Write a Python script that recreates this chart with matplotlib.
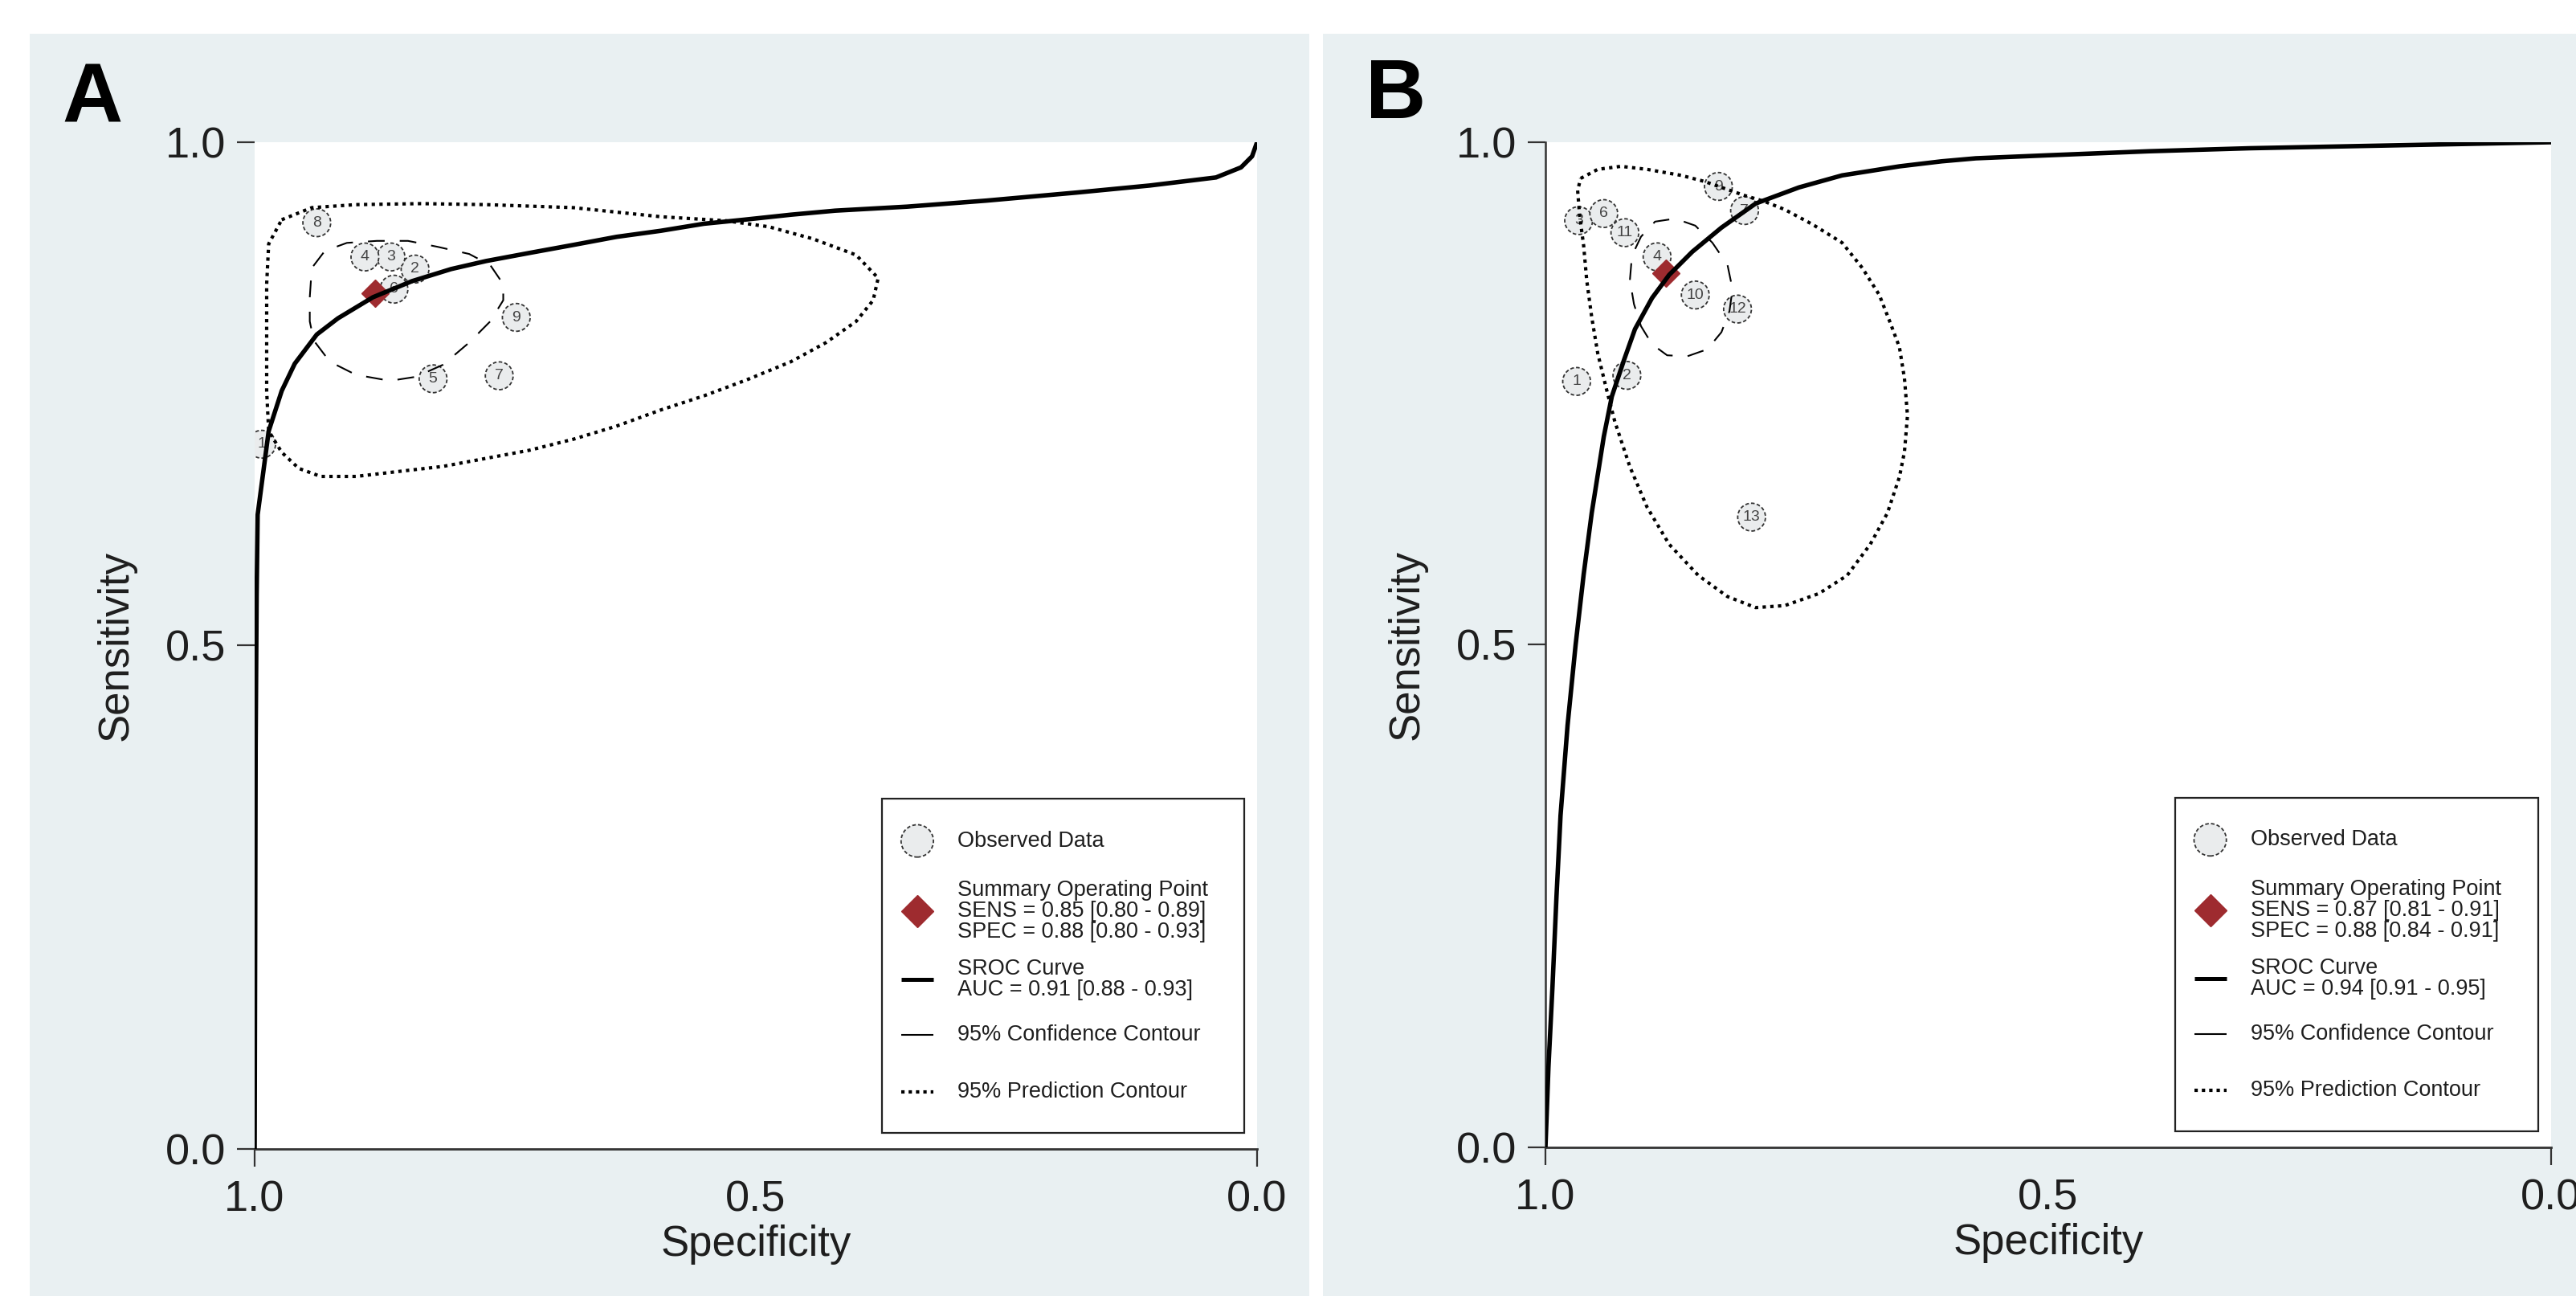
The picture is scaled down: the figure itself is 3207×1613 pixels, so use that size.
import matplotlib
matplotlib.use("Agg")
import matplotlib.pyplot as plt
from matplotlib.patches import Rectangle

plt.rcParams["font.family"] = ["Liberation Sans", "DejaVu Sans"]

BG = "#e9f0f2"
MAROON = "#9e2b2f"
INK = "#1e1e1e"

# ---------------- panel A ----------------
a_ids = ["1", "2", "3", "4", "5", "6", "7", "8", "9"]
a_spec = [0.993, 0.840, 0.864, 0.890, 0.822, 0.861, 0.756, 0.938, 0.739]
a_sens = [0.700, 0.874, 0.886, 0.886, 0.765, 0.854, 0.768, 0.920, 0.826]
a_summary = (0.88, 0.85)

a_sroc_spec = [1.000, 0.999, 0.998, 0.997, 0.986, 0.973, 0.960, 0.938, 0.917, 0.882,
               0.843, 0.804, 0.769, 0.726, 0.682, 0.639, 0.595, 0.552, 0.512, 0.465,
               0.421, 0.349, 0.270, 0.180, 0.107, 0.041, 0.016, 0.005, 0.000]
a_sroc_sens = [0.000, 0.400, 0.550, 0.630, 0.713, 0.753, 0.780, 0.809, 0.825, 0.846,
               0.862, 0.874, 0.882, 0.890, 0.898, 0.906, 0.912, 0.919, 0.923, 0.928,
               0.932, 0.936, 0.942, 0.950, 0.957, 0.965, 0.975, 0.986, 1.000]

a_conf_spec = [0.945, 0.943, 0.930, 0.908, 0.878, 0.847, 0.817, 0.786, 0.765, 0.752,
               0.752, 0.765, 0.786, 0.812, 0.839, 0.865, 0.899, 0.925, 0.941, 0.945, 0.945]
a_conf_sens = [0.846, 0.875, 0.892, 0.900, 0.902, 0.902, 0.896, 0.889, 0.878, 0.859,
               0.843, 0.822, 0.801, 0.779, 0.767, 0.763, 0.769, 0.782, 0.803, 0.822, 0.846]

a_pred_spec = [0.973, 0.943, 0.899, 0.834, 0.769, 0.682, 0.595, 0.530, 0.487, 0.443,
               0.400, 0.378, 0.383, 0.400, 0.430, 0.465, 0.509, 0.552, 0.595, 0.639,
               0.682, 0.726, 0.769, 0.812, 0.856, 0.899, 0.934, 0.956, 0.973, 0.986,
               0.988, 0.988, 0.988, 0.986, 0.973]
a_pred_sens = [0.923, 0.935, 0.938, 0.939, 0.938, 0.935, 0.926, 0.922, 0.916, 0.904,
               0.888, 0.865, 0.843, 0.822, 0.801, 0.782, 0.764, 0.748, 0.734, 0.718,
               0.705, 0.694, 0.686, 0.678, 0.673, 0.668, 0.668, 0.676, 0.692, 0.713,
               0.753, 0.806, 0.859, 0.899, 0.923]

a_legend = ["Observed Data",
            "Summary Operating Point\nSENS = 0.85 [0.80 - 0.89]\nSPEC = 0.88 [0.80 - 0.93]",
            "SROC Curve\nAUC = 0.91 [0.88 - 0.93]",
            "95% Confidence Contour",
            "95% Prediction Contour"]

# ---------------- panel B ----------------
b_ids = ["1", "2", "3", "4", "6", "7", "9", "10", "11", "12", "13"]
b_spec = [0.969, 0.919, 0.967, 0.889, 0.942, 0.802, 0.828, 0.851, 0.921, 0.809, 0.795]
b_sens = [0.762, 0.768, 0.922, 0.886, 0.929, 0.932, 0.956, 0.848, 0.910, 0.834, 0.627]
b_summary = (0.88, 0.87)

b_sroc_spec = [1.000, 0.997, 0.993, 0.989, 0.985, 0.978, 0.970, 0.962, 0.954, 0.942,
               0.934, 0.922, 0.911, 0.894, 0.877, 0.854, 0.825, 0.791, 0.748, 0.705,
               0.648, 0.606, 0.572, 0.500, 0.400, 0.300, 0.200, 0.100, 0.000]
b_sroc_sens = [0.000, 0.080, 0.160, 0.250, 0.330, 0.420, 0.500, 0.570, 0.631, 0.707,
               0.747, 0.783, 0.814, 0.845, 0.868, 0.891, 0.915, 0.939, 0.955, 0.967,
               0.976, 0.981, 0.984, 0.987, 0.991, 0.994, 0.996, 0.998, 1.000]

b_conf_spec = [0.916, 0.914, 0.905, 0.891, 0.871, 0.851, 0.834, 0.819, 0.814, 0.817,
               0.825, 0.839, 0.859, 0.879, 0.894, 0.905, 0.912, 0.916]
b_conf_sens = [0.863, 0.887, 0.906, 0.921, 0.924, 0.917, 0.900, 0.878, 0.854, 0.832,
               0.811, 0.794, 0.787, 0.788, 0.799, 0.817, 0.839, 0.863]

b_pred_spec = [0.965, 0.948, 0.925, 0.899, 0.865, 0.842, 0.802, 0.782, 0.762, 0.734,
               0.705, 0.685, 0.668, 0.657, 0.648, 0.643, 0.640, 0.643, 0.648, 0.660,
               0.677, 0.700, 0.728, 0.762, 0.791, 0.819, 0.848, 0.877, 0.899, 0.916,
               0.931, 0.939, 0.948, 0.954, 0.959, 0.962, 0.966, 0.968, 0.965]
b_pred_sens = [0.964, 0.973, 0.976, 0.973, 0.967, 0.961, 0.947, 0.941, 0.933, 0.918,
               0.900, 0.875, 0.848, 0.820, 0.796, 0.765, 0.728, 0.692, 0.667, 0.631,
               0.600, 0.569, 0.551, 0.539, 0.537, 0.548, 0.569, 0.600, 0.637, 0.677,
               0.722, 0.753, 0.790, 0.826, 0.863, 0.897, 0.927, 0.952, 0.964]

b_legend = ["Observed Data",
            "Summary Operating Point\nSENS = 0.87 [0.81 - 0.91]\nSPEC = 0.88 [0.84 - 0.91]",
            "SROC Curve\nAUC = 0.94 [0.91 - 0.95]",
            "95% Confidence Contour",
            "95% Prediction Contour"]

tick_vals = [1.0, 0.5, 0.0]
tick_labels = ["1.0", "0.5", "0.0"]

CIRCLE_FILL = "#eaeced"
CONF_DASH = (0, (10, 9))
PRED_DOT = (0, (1, 1.3))


def draw_legend(ax, labels):
    ax.add_patch(Rectangle((0.626, 0.016), 0.361, 0.332, transform=ax.transAxes,
                           facecolor="white", edgecolor="#222222", lw=1.6, zorder=6))
    rows = [0.306, 0.236, 0.168, 0.113, 0.057]
    hx, x0, x1, tx = 0.661, 0.645, 0.677, 0.701
    kw = dict(transform=ax.transAxes, clip_on=False, zorder=7)
    ax.scatter([hx], [rows[0]], s=840, facecolor=CIRCLE_FILL, edgecolor="#333333",
               linewidths=1.3, linestyle=(0, (2.5, 1.5)), **kw)
    ax.plot([hx], [rows[1]], marker="D", ms=20, color=MAROON, ls="none", **kw)
    ax.plot([x0, x1], [rows[2]] * 2, color="black", lw=3.6, solid_capstyle="butt", **kw)
    ax.plot([x0, x1], [rows[3]] * 2, color="black", lw=1.5, solid_capstyle="butt", **kw)
    ax.plot([x0, x1], [rows[4]] * 2, color="black", lw=3.0, ls=(0, (1, 1.2)), **kw)
    for y, lab in zip(rows, labels):
        ax.text(tx, y, lab, fontsize=19.5, color=INK, va="center", ha="left",
                linespacing=1.0, **kw)


def draw_panel(ax, ids, spec, sens, summary, sroc, conf, pred, labels, left_spine):
    ax.set_facecolor("white")
    ax.scatter(spec, sens, s=620, facecolor=CIRCLE_FILL, edgecolor="#333333",
               linewidths=1.3, linestyle=(0, (2.5, 1.5)), zorder=3)
    for i, x, y in zip(ids, spec, sens):
        ax.text(x, y, i, fontsize=14, color="#444444", ha="center", va="center", zorder=3.5)
    ax.plot([summary[0]], [summary[1]], marker="D", ms=17, color=MAROON, ls="none", zorder=4)
    ax.plot(conf[0], conf[1], color="black", lw=1.5, ls=CONF_DASH, zorder=4.5)
    ax.plot(pred[0], pred[1], color="black", lw=3.0, ls=PRED_DOT, zorder=4.5)
    ax.plot(sroc[0], sroc[1], color="black", lw=4.0, zorder=5)

    ax.set_xlim(1, 0)
    ax.set_ylim(0, 1)
    ax.set_xticks(tick_vals)
    ax.set_xticklabels(tick_labels)
    ax.set_yticks(tick_vals)
    ax.set_yticklabels(tick_labels)
    ax.xaxis.get_major_ticks()[1].tick1line.set_visible(False)
    ax.tick_params(axis="both", length=16, width=1.6, color="#333333",
                   labelsize=39, labelcolor=INK)
    ax.tick_params(axis="x", pad=12)
    ax.tick_params(axis="y", pad=10)
    for side in ("top", "right"):
        ax.spines[side].set_visible(False)
    ax.spines["left"].set_visible(left_spine)
    ax.spines["left"].set_linewidth(1.8)
    ax.spines["bottom"].set_linewidth(2.0)
    ax.spines["left"].set_color("#333333")
    ax.spines["bottom"].set_color("#333333")
    ax.set_xlabel("Specificity", fontsize=38, color=INK, labelpad=4)
    ax.set_ylabel("Sensitivity", fontsize=38, color=INK, labelpad=26)
    draw_legend(ax, labels)


fig = plt.figure(figsize=(32.07, 16.13), dpi=100, facecolor="white")
fig.patches.append(Rectangle((0.0115, 0.0), 0.4967, 0.974, transform=fig.transFigure,
                             facecolor=BG, edgecolor="none", zorder=-1))
fig.patches.append(Rectangle((0.5136, 0.0), 0.4864, 0.974, transform=fig.transFigure,
                             facecolor=BG, edgecolor="none", zorder=-1))

ax_a = fig.add_axes([0.09885, 0.11345, 0.38915, 0.77682])
ax_b = fig.add_axes([0.59994, 0.11469, 0.39040, 0.77558])

draw_panel(ax_a, a_ids, a_spec, a_sens, a_summary,
           (a_sroc_spec, a_sroc_sens), (a_conf_spec, a_conf_sens),
           (a_pred_spec, a_pred_sens), a_legend, left_spine=False)
draw_panel(ax_b, b_ids, b_spec, b_sens, b_summary,
           (b_sroc_spec, b_sroc_sens), (b_conf_spec, b_conf_sens),
           (b_pred_spec, b_pred_sens), b_legend, left_spine=True)

fig.text(0.024, 0.9058, "A", fontsize=75, fontweight="bold", color="black", va="baseline")
fig.text(0.530, 0.9089, "B", fontsize=75, fontweight="bold", color="black", va="baseline")

fig.savefig("out.png", dpi=100, facecolor="white")
